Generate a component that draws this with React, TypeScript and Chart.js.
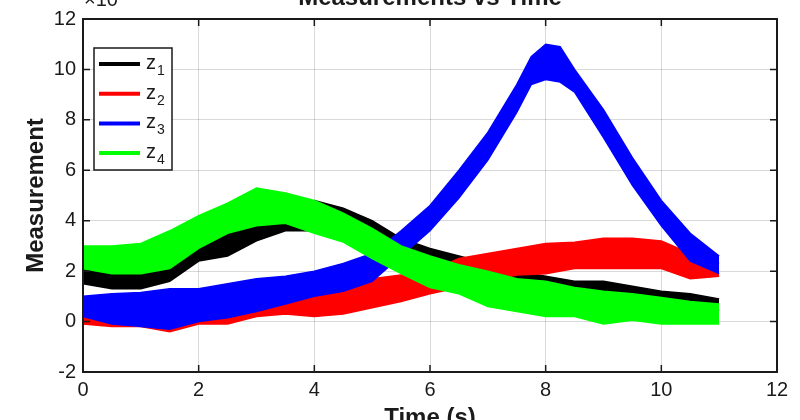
import { useEffect, useRef } from "react"
import { Chart, registerables } from "chart.js"

Chart.register(...registerables)

// ── Theme ───────────────────────────────────────────────────
const FONT     = "'Liberation Sans', Arial, Helvetica, sans-serif"
const INK      = "#1a1a1a"
const GRID     = "rgba(0,0,0,0.15)"

// ── Data (band envelopes) ───────────────────────────────────
const TIME = [0, 0.5, 1, 1.5, 2, 2.5, 3, 3.5, 4, 4.5, 5, 5.5, 6, 6.5, 7, 7.5, 8, 8.5, 9, 9.5, 10, 10.5, 11]
const TIME_Z3 = [0, 0.5, 1, 1.5, 2, 2.5, 3, 3.5, 4, 4.5, 5, 5.5, 6, 6.5, 7, 7.5, 7.75, 8, 8.25, 8.5, 9, 9.5, 10, 10.5, 11]

const Z1_LOW  = [1.5, 1.3, 1.3, 1.6, 2.4, 2.6, 3.2, 3.6, 3.6, 3.3, 3.0, 2.4, 2.0, 1.9, 1.6, 1.5, 1.35, 1.15, 1.1, 0.8, 0.7, 0.55, 0.45]
const Z1_HIGH = [2.2, 2.1, 2.2, 2.6, 3.2, 3.7, 4.1, 4.4, 4.8, 4.5, 4.0, 3.3, 2.9, 2.6, 2.3, 2.0, 1.8, 1.6, 1.6, 1.4, 1.2, 1.1, 0.9]

const Z2_LOW  = [-0.1, -0.2, -0.2, -0.4, -0.1, -0.1, 0.2, 0.3, 0.2, 0.3, 0.55, 0.8, 1.1, 1.35, 1.6, 1.85, 1.9, 2.1, 2.1, 2.1, 2.1, 1.7, 1.8]
const Z2_HIGH = [0.8, 0.8, 0.9, 0.8, 0.9, 0.7, 1.1, 1.1, 1.2, 1.35, 1.7, 1.85, 2.0, 2.5, 2.7, 2.9, 3.1, 3.15, 3.3, 3.3, 3.2, 2.7, 2.3]

const Z3_LOW  = [0.2, -0.1, -0.2, -0.3, 0.0, 0.15, 0.4, 0.7, 1.0, 1.2, 1.6, 2.6, 3.6, 4.9, 6.4, 8.3, 9.4, 9.6, 9.5, 9.1, 7.3, 5.4, 3.8, 2.4, 1.9]
const Z3_HIGH = [1.0, 1.1, 1.15, 1.3, 1.3, 1.5, 1.7, 1.8, 2.0, 2.3, 2.7, 3.6, 4.6, 6.0, 7.5, 9.4, 10.5, 11.0, 10.9, 10.0, 8.4, 6.5, 4.8, 3.5, 2.6]

const Z4_LOW  = [2.1, 1.9, 1.9, 2.1, 2.9, 3.5, 3.8, 3.9, 3.5, 3.15, 2.5, 1.9, 1.35, 1.1, 0.6, 0.4, 0.2, 0.2, -0.1, 0.05, -0.1, -0.1, -0.1]
const Z4_HIGH = [3.0, 3.0, 3.1, 3.6, 4.2, 4.7, 5.3, 5.1, 4.8, 4.3, 3.7, 3.0, 2.6, 2.25, 2.0, 1.7, 1.6, 1.35, 1.2, 1.1, 0.95, 0.8, 0.7]

const SERIES_NAMES  = ["z1", "z2", "z3", "z4"]
const SERIES_COLORS = ["#000000", "#ff0000", "#0000ff", "#00ff00"]

const X_TICKS = [0, 2, 4, 6, 8, 10, 12]
const Y_TICKS = [-2, 0, 2, 4, 6, 8, 10, 12]

const TITLE    = "Measurements vs Time"
const X_LABEL  = "Time (s)"
const Y_LABEL  = "Measurement"
const EXPONENT = "×10"

// ── Band = lower line + upper line filled down to it ────────
function band(idx: number, time: number[], low: number[], high: number[]) {
  const color = SERIES_COLORS[idx]
  const order = SERIES_NAMES.length - idx // later series on top
  const common = {
    borderColor: color,
    backgroundColor: color,
    borderWidth: 1.5,
    pointRadius: 0,
    tension: 0,
    order,
  }
  return [
    { ...common, label: SERIES_NAMES[idx] + "_low", data: time.map((t, i) => ({ x: t, y: low[i] })), fill: false },
    { ...common, label: SERIES_NAMES[idx], data: time.map((t, i) => ({ x: t, y: high[i] })), fill: "-1" },
  ]
}

// ── Frame, inward ticks, legend, labels (MATLAB look) ───────
const matlabFrame = {
  id: "matlabFrame",
  afterDatasetsDraw(chart: any) {
    const { ctx, chartArea: a, scales } = chart
    ctx.save()
    ctx.strokeStyle = INK
    ctx.lineWidth = 1.5
    ctx.beginPath()
    X_TICKS.forEach(v => {
      const px = scales.x.getPixelForValue(v)
      ctx.moveTo(px, a.bottom); ctx.lineTo(px, a.bottom - 7)
      ctx.moveTo(px, a.top);    ctx.lineTo(px, a.top + 7)
    })
    Y_TICKS.forEach(v => {
      const py = scales.y.getPixelForValue(v)
      ctx.moveTo(a.left, py);  ctx.lineTo(a.left + 7, py)
      ctx.moveTo(a.right, py); ctx.lineTo(a.right - 7, py)
    })
    ctx.stroke()
    ctx.lineWidth = 2
    ctx.strokeRect(a.left, a.top, a.right - a.left, a.bottom - a.top)

    // legend box
    const lx = a.left + 11, ly = a.top + 29, lw = 78, lh = 122
    ctx.fillStyle = "#ffffff"
    ctx.fillRect(lx, ly, lw, lh)
    ctx.lineWidth = 1.5
    ctx.strokeRect(lx, ly, lw, lh)
    SERIES_NAMES.forEach((name, i) => {
      const y = ly + 16 + i * 29.7
      ctx.strokeStyle = SERIES_COLORS[i]
      ctx.lineWidth = 4
      ctx.beginPath()
      ctx.moveTo(lx + 5, y); ctx.lineTo(lx + 46, y)
      ctx.stroke()
      ctx.fillStyle = INK
      ctx.textAlign = "left"
      ctx.textBaseline = "alphabetic"
      ctx.font = `20px ${FONT}`
      ctx.fillText(name.charAt(0), lx + 52, y + 5)
      ctx.font = `14px ${FONT}`
      ctx.fillText(name.slice(1), lx + 63, y + 11)
    })
    ctx.restore()
  },
  afterDraw(chart: any) {
    const { ctx, chartArea: a } = chart
    const cx = (a.left + a.right) / 2
    ctx.save()
    ctx.fillStyle = INK
    ctx.textBaseline = "alphabetic"
    ctx.textAlign = "center"
    ctx.font = `bold 24px ${FONT}`
    ctx.fillText(TITLE, cx, 5)
    ctx.fillText(X_LABEL, cx, 425)
    ctx.font = `20px ${FONT}`
    ctx.textAlign = "left"
    ctx.fillText(EXPONENT, a.left + 1, 6)
    ctx.translate(43, (a.top + a.bottom) / 2)
    ctx.rotate(-Math.PI / 2)
    ctx.textAlign = "center"
    ctx.font = `bold 24px ${FONT}`
    ctx.fillText(Y_LABEL, 0, 0)
    ctx.restore()
  },
}

export default function App() {
  const ref = useRef<HTMLCanvasElement>(null)
  useEffect(() => {
    if (!ref.current) return
    const chart = new Chart(ref.current, {
      type: "line",
      data: {
        datasets: [
          ...band(0, TIME, Z1_LOW, Z1_HIGH),
          ...band(1, TIME, Z2_LOW, Z2_HIGH),
          ...band(2, TIME_Z3, Z3_LOW, Z3_HIGH),
          ...band(3, TIME, Z4_LOW, Z4_HIGH),
        ] as any,
      },
      options: {
        animation: false,
        responsive: true,
        maintainAspectRatio: false,
        layout: { padding: { top: 13, right: 23, left: 0, bottom: 0 } },
        plugins: {
          legend: { display: false },
          title: { display: false },
          tooltip: { enabled: false },
        },
        scales: {
          x: {
            type: "linear",
            min: 0,
            max: 12,
            afterFit: (s: any) => { s.height = 48 },
            afterBuildTicks: (s: any) => { s.ticks = X_TICKS.map(v => ({ value: v })) },
            ticks: { color: INK, padding: 6, font: { family: FONT, size: 20 } },
            grid: { color: GRID, lineWidth: 1, drawTicks: false },
            border: { display: false },
          },
          y: {
            type: "linear",
            min: -2,
            max: 12,
            afterFit: (s: any) => { s.width = 83 },
            afterBuildTicks: (s: any) => { s.ticks = Y_TICKS.map(v => ({ value: v })) },
            ticks: { color: INK, padding: 7, font: { family: FONT, size: 20 } },
            grid: { color: GRID, lineWidth: 1, drawTicks: false },
            border: { display: false },
          },
        },
      },
      plugins: [matlabFrame],
    })
    return () => chart.destroy()
  }, [])
  return (
    <div style={{ position: "fixed", left: 0, top: 0, width: 800, height: 420, background: "#fff" }}>
      <canvas ref={ref} />
    </div>
  )
}
